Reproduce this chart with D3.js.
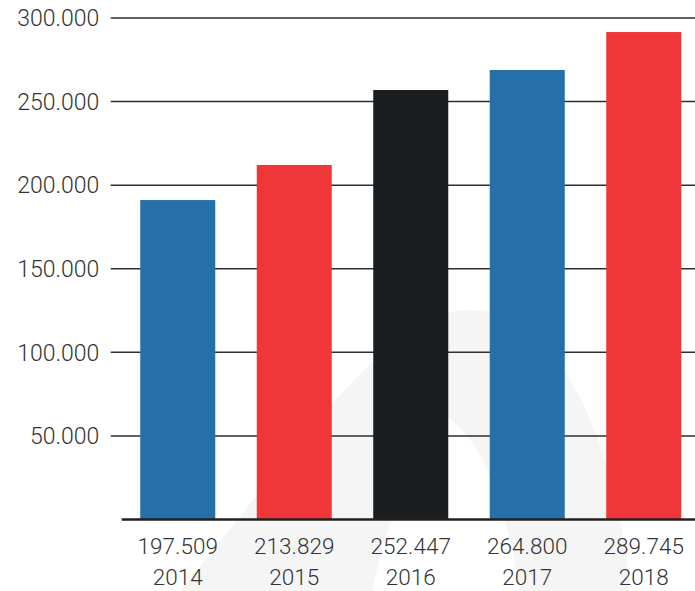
<!DOCTYPE html>
<html>
<head>
<meta charset="utf-8">
<script src="https://cdn.jsdelivr.net/npm/d3@7"></script>
<style>
  html, body { margin: 0; padding: 0; background: #fff; }
  svg { display: block; }
  text { font-family: Roboto, "Open Sans", sans-serif; font-weight: 300; fill: #333; }
</style>
</head>
<body>
<svg width="695" height="591"></svg>
<script>
// years on the x axis
const years = ["2014", "2015", "2016", "2017", "2018"];
// figures printed under each bar
const valueLabels = ["197.509", "213.829", "252.447", "264.800", "289.745"];
// bar heights as drawn in the picture
const barValues = [190800, 211800, 256600, 268600, 291300];
const yTicks = [50000, 100000, 150000, 200000, 250000, 300000];

const barColors = ["#2670aa", "#ef3639", "#1b1e20", "#2670aa", "#ef3639"];

const width = 695;
const height = 591;

const svg = d3.select("svg");

const locale = d3.formatLocale({ decimal: ",", thousands: ".", grouping: [3], currency: ["", ""] });
const fmt = locale.format(",");

const x = d3.scaleBand()
  .domain(years)
  .range([119.5, 702])
  .paddingInner(0.356)
  .paddingOuter(0.178);

const y = d3.scaleLinear()
  .domain([0, 300000])
  .range([519, 17.5]);

const color = d3.scaleOrdinal(years, barColors);

// faint watermark in the background
svg.append("path")
  .attr("fill", "#f5f5f5")
  .attr("d", "M180,591 C280,470 375,330 450,312 C545,292 615,420 630,591 L520,591 C505,500 482,440 447,417 C420,440 392,500 372,591 Z");

// gridlines + y labels
const yAxis = svg.append("g")
  .attr("transform", "translate(110.7,0)")
  .call(d3.axisLeft(y).tickValues(yTicks).tickSize(-(width - 110.7)).tickPadding(11.5).tickFormat(fmt));

yAxis.select(".domain").remove();
yAxis.selectAll(".tick line").attr("stroke", "#2e2e2e").attr("stroke-width", 1.5);
yAxis.selectAll(".tick text")
  .attr("font-size", 23)
  .attr("fill", "#333")
  .attr("dy", "0.36em")
  .style("font-family", "Roboto, sans-serif")
  .style("font-weight", 300);

const data = years.map((yr, i) => ({ year: yr, value: barValues[i], label: valueLabels[i] }));

svg.append("g")
  .selectAll("rect")
  .data(data)
  .join("rect")
  .attr("x", (d) => x(d.year))
  .attr("width", x.bandwidth())
  .attr("y", (d) => y(d.value))
  .attr("height", (d) => y(0) - y(d.value))
  .attr("fill", (d) => color(d.year));

// baseline
svg.append("line")
  .attr("x1", 121.7)
  .attr("x2", width)
  .attr("y1", y(0) + 0.5)
  .attr("y2", y(0) + 0.5)
  .attr("stroke", "#231f20")
  .attr("stroke-width", 2.5);

// labels under bars
const lbl = svg.append("g")
  .selectAll("g")
  .data(data)
  .join("g")
  .attr("transform", (d) => `translate(${x(d.year) + x.bandwidth() / 2},0)`);

lbl.append("text")
  .attr("y", 554)
  .attr("text-anchor", "middle")
  .attr("font-size", 22.5)
  .text((d) => d.label);

lbl.append("text")
  .attr("y", 585)
  .attr("text-anchor", "middle")
  .attr("font-size", 22.5)
  .text((d) => d.year);
</script>
</body>
</html>
